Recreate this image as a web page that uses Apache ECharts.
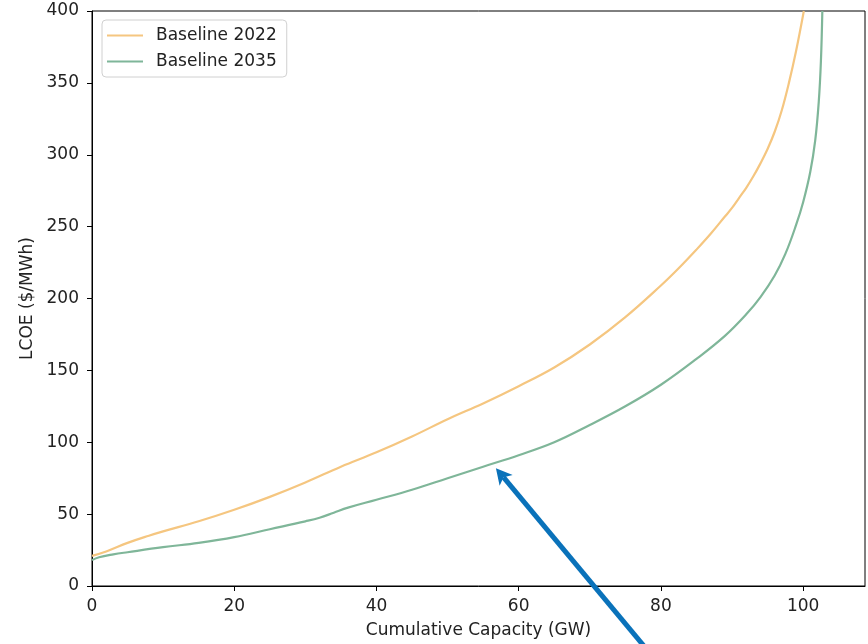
<!DOCTYPE html>
<html>
<head>
<meta charset="utf-8">
<script src="https://cdn.jsdelivr.net/npm/echarts@6/dist/echarts.min.js"></script>
<style>
  html, body { margin: 0; padding: 0; background: #fff; }
  #chart { width: 868px; height: 644px; }
</style>
</head>
<body>
<div id="chart"></div>
<script>
// Supply curves: cumulative capacity (GW) vs levelized cost ($/MWh)
const seriesNames = ['Baseline 2022', 'Baseline 2035'];

const capacity2022 = [0, 2, 5, 8, 10, 15, 20, 25, 30, 35, 40, 45, 50, 55, 60, 65, 70, 75, 80, 82.5, 85, 87, 89, 90, 91, 92, 93, 94, 95, 96, 97, 98, 99, 100.1];
const lcoe2022     = [21, 24, 30, 35, 38, 45, 53, 62, 72, 83, 93, 104, 116, 127, 139, 152, 168, 187, 209, 221, 234, 245, 257, 263, 270, 277, 285, 294, 304, 316, 331, 350, 372, 400];

const capacity2035 = [0, 1, 3, 5, 10, 15, 20, 25, 30, 32, 34, 36, 40, 45, 50, 55, 60, 65, 70, 75, 80, 85, 89, 92, 94, 96, 97.5, 99, 100, 101, 101.7, 102.2, 102.5, 102.7];
const lcoe2035     = [18, 20, 22, 23.5, 27, 30, 34, 39.5, 45, 47.5, 51, 54.5, 60, 67, 75, 83, 91, 100, 112, 125, 140, 158, 174, 189, 201, 216, 231, 251, 267, 288, 310, 337, 365, 400];

const xTicks = { min: 0, max: 108.7, interval: 20 };
const yTicks = { min: 0, max: 400, interval: 50 };

// annotation arrow: from tail (data) to head (data)
const arrowTail = [79, -50];
const arrowHead = [56.8, 82];

const colors = ['#f5c680', '#7fb699'];

function pairs(xs, ys) { return xs.map((x, i) => [x, ys[i]]); }

const chart = echarts.init(document.getElementById('chart'), null, { renderer: 'canvas' });
const font = 'DejaVu Sans';
const fs = 17;

chart.setOption({
  animation: false,
  textStyle: { fontFamily: font },
  grid: { left: 92, right: 3, top: 11, bottom: 57, show: true, borderColor: '#000', borderWidth: 1, backgroundColor: 'transparent' },
  legend: {
    data: seriesNames,
    orient: 'vertical',
    left: 102, top: 20,
    icon: 'rect', itemWidth: 36, itemHeight: 2,
    itemGap: 9,
    padding: [7, 10, 7, 5],
    backgroundColor: 'rgba(255,255,255,0.8)',
    borderColor: '#d0d0d0', borderWidth: 1, borderRadius: 4,
    textStyle: { fontFamily: font, fontSize: fs, color: '#222', padding: [0, 0, 0, 8] }
  },
  xAxis: {
    type: 'value', min: xTicks.min, max: xTicks.max, interval: xTicks.interval,
    name: 'Cumulative Capacity (GW)', nameLocation: 'middle', nameGap: 36,
    nameTextStyle: { fontFamily: font, fontSize: fs, color: '#222' },
    axisLine: { show: true, onZero: false, lineStyle: { color: '#000', width: 1 } },
    axisTick: { show: true, length: 5, lineStyle: { color: '#000' } },
    axisLabel: { fontFamily: font, fontSize: fs, color: '#222', margin: 12, showMaxLabel: false },
    splitLine: { show: false }
  },
  yAxis: {
    type: 'value', min: yTicks.min, max: yTicks.max, interval: yTicks.interval,
    name: 'LCOE ($/MWh)', nameLocation: 'middle', nameGap: 50,
    nameTextStyle: { fontFamily: font, fontSize: fs, color: '#222' },
    axisLine: { show: true, lineStyle: { color: '#000', width: 1 } },
    axisTick: { show: true, length: 5, lineStyle: { color: '#000' } },
    axisLabel: { fontFamily: font, fontSize: fs, color: '#222', margin: 13 },
    splitLine: { show: false }
  },
  series: [
    {
      name: seriesNames[0], type: 'line', data: pairs(capacity2022, lcoe2022),
      smooth: 0.4, symbol: 'none', clip: true,
      lineStyle: { color: colors[0], width: 2.2 }, itemStyle: { color: colors[0] }
    },
    {
      name: seriesNames[1], type: 'line', data: pairs(capacity2035, lcoe2035),
      smooth: 0.4, symbol: 'none', clip: true,
      lineStyle: { color: colors[1], width: 2.2 }, itemStyle: { color: colors[1] }
    }
  ]
});

// Arrow annotation placed through the axes' own conversion
const tail = chart.convertToPixel({ gridIndex: 0 }, arrowTail);
const head = chart.convertToPixel({ gridIndex: 0 }, arrowHead);
const dx = head[0] - tail[0], dy = head[1] - tail[1];
const len = Math.sqrt(dx * dx + dy * dy);
const ux = dx / len, uy = dy / len;
const px = -uy, py = ux;
const headLen = 16, headHalf = 8.5, notch = 4;
const baseX = head[0] - ux * headLen, baseY = head[1] - uy * headLen;
const arrowColor = '#0a72ba';

chart.setOption({
  graphic: [
    {
      type: 'line', z: 100,
      shape: { x1: tail[0], y1: tail[1], x2: baseX + ux * notch, y2: baseY + uy * notch },
      style: { stroke: arrowColor, lineWidth: 5 }
    },
    {
      type: 'polygon', z: 100,
      shape: { points: [
        [head[0], head[1]],
        [baseX + px * headHalf, baseY + py * headHalf],
        [baseX + ux * notch, baseY + uy * notch],
        [baseX - px * headHalf, baseY - py * headHalf]
      ] },
      style: { fill: arrowColor }
    }
  ]
});
</script>
</body>
</html>
